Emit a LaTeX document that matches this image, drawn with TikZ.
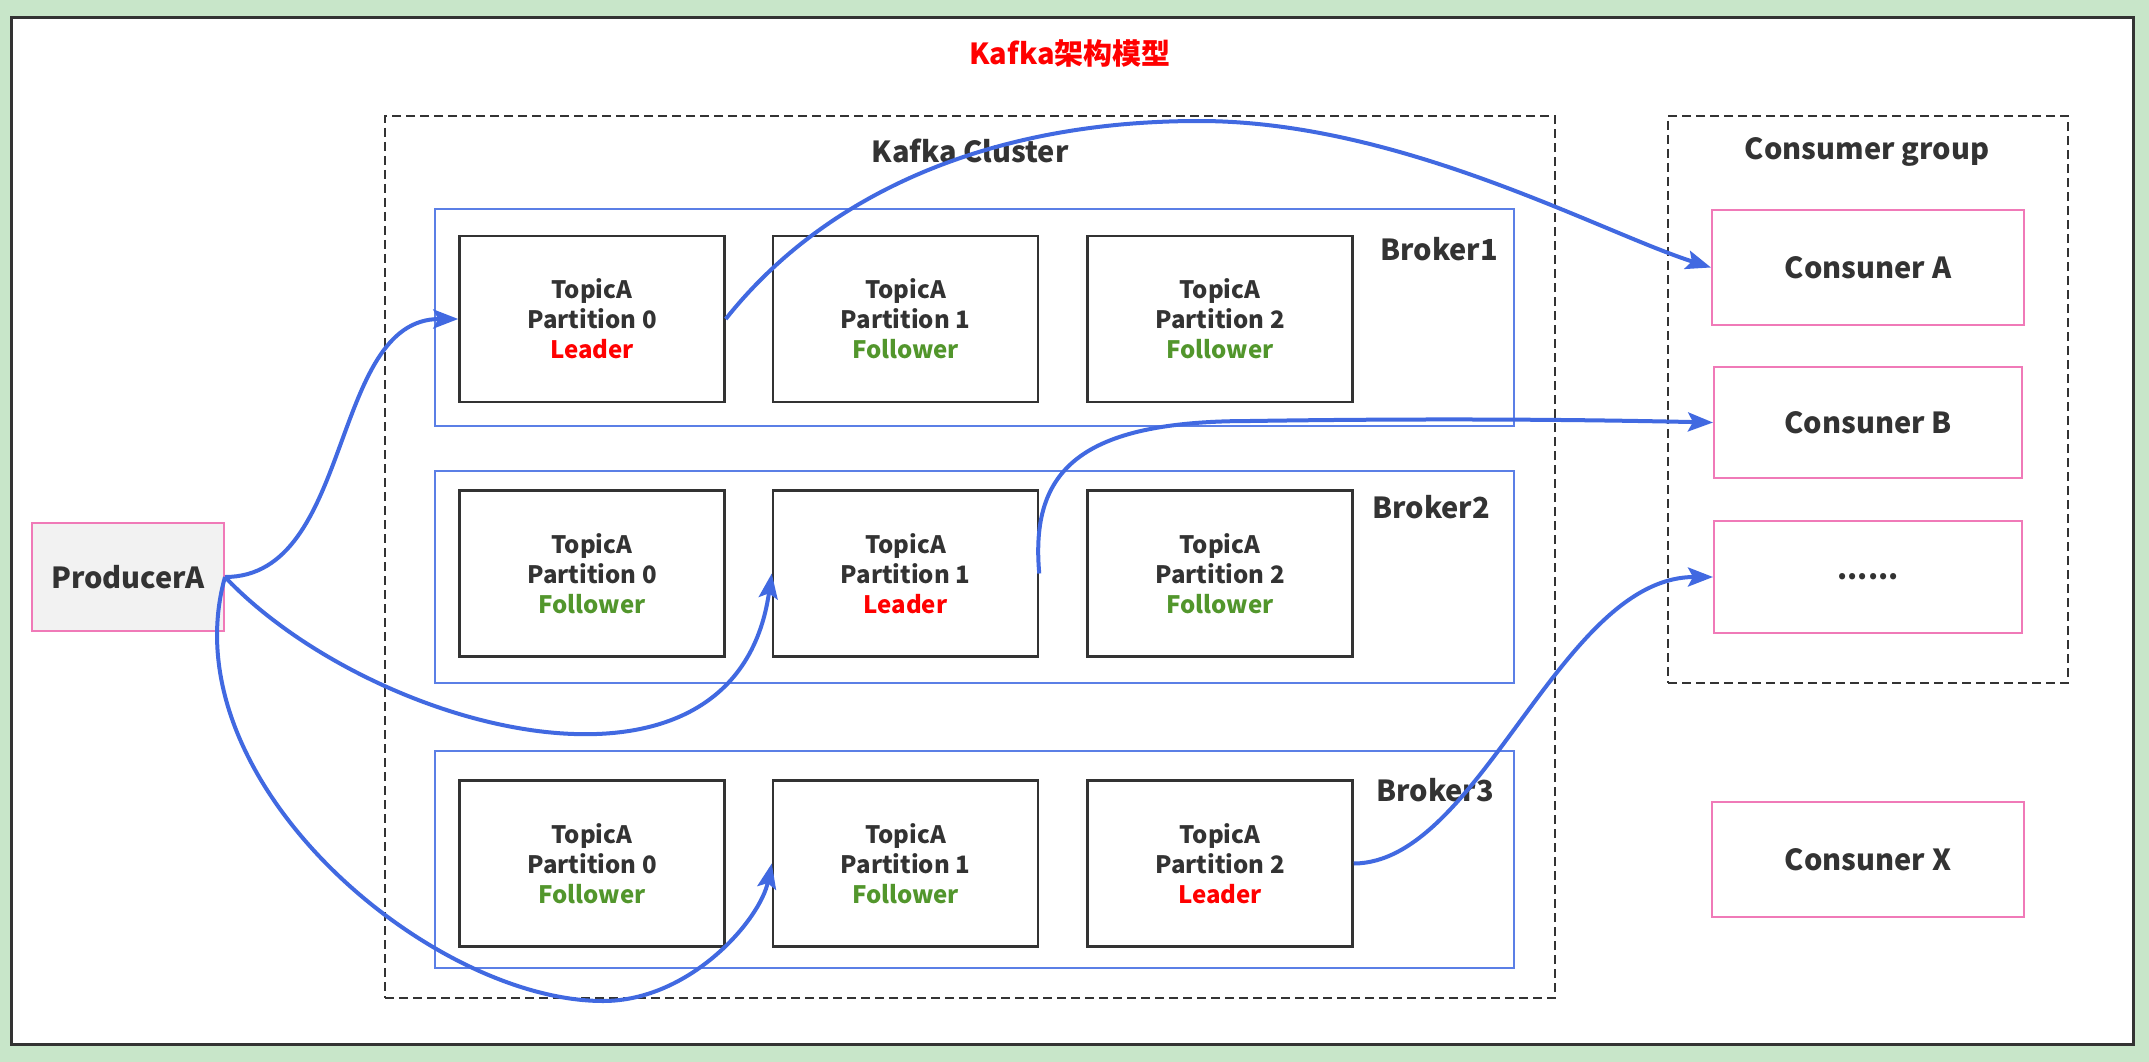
\documentclass[tikz,border=0pt]{standalone}
\usepackage{fontspec}
\setmainfont{Noto Sans CJK SC}
\usetikzlibrary{arrows.meta,calc}
\definecolor{bggreen}{HTML}{C8E6C9}
\definecolor{framegray}{HTML}{333333}
\definecolor{textgray}{HTML}{333333}
\definecolor{arrowblue}{HTML}{4169E1}
\definecolor{brokerblue}{HTML}{5B7FE6}
\definecolor{pinkline}{HTML}{F07AB8}
\definecolor{prodfill}{HTML}{F2F2F2}
\definecolor{leadred}{HTML}{FF0000}
\definecolor{follgreen}{HTML}{52962C}
\begin{document}
\begin{tikzpicture}[x=1pt,y=-1pt,
  part/.style={draw=framegray,line width=2.5pt,fill=white,minimum width=265pt,minimum height=166pt,inner sep=0pt,align=center,font=\fontsize{24}{30}\selectfont\bfseries,text=textgray},
  brokerbox/.style={draw=brokerblue,line width=2pt,minimum width=1079pt,inner sep=0pt},
  dashbox/.style={draw=framegray,line width=2pt,dash pattern=on 9pt off 5pt,inner sep=0pt},
  consbox/.style={draw=pinkline,line width=2pt,fill=white,inner sep=0pt,font=\fontsize{29}{34}\selectfont\bfseries,text=textgray},
  bigtext/.style={font=\fontsize{29}{34}\selectfont\bfseries,text=textgray,inner sep=0pt},
  flow/.style={draw=arrowblue,line width=4pt,-{Stealth[length=25pt,width=19pt,inset=5pt]}}]
\useasboundingbox (0,0) rectangle (2149,1062);
\fill[bggreen] (0,0) rectangle (2149,1062);
\draw[framegray,line width=3pt,fill=white] (11,18) rectangle (2133,1044);

\node[bigtext,text=leadred] (title) at (1070,54) {Kafka架构模型};

\node[dashbox,minimum width=1170pt,minimum height=882pt] (cluster) at (970,557) {};
\node[bigtext] (clusterlbl) at (970,151) {Kafka Cluster};
\node[dashbox,minimum width=400pt,minimum height=567pt] (cgroup) at (1868,399.5) {};
\node[bigtext] (cgrouplbl) at (1867,152) {Consumer group};

\node[brokerbox,minimum height=217pt] (b1) at (974.5,317.5) {};
\node[brokerbox,minimum height=212pt] (b2) at (974.5,577) {};
\node[brokerbox,minimum height=217pt] (b3) at (974.5,859.5) {};
\node[bigtext] (b1lbl) at (1439,249) {Broker1};
\node[bigtext] (b2lbl) at (1431,507) {Broker2};
\node[bigtext] (b3lbl) at (1435,790) {Broker3};

\node[part] (p11) at (592,319) {TopicA\\Partition 0\\\textcolor{leadred}{Leader}};
\node[part] (p12) at (905.5,319) {TopicA\\Partition 1\\\textcolor{follgreen}{Follower}};
\node[part] (p13) at (1220,319) {TopicA\\Partition 2\\\textcolor{follgreen}{Follower}};
\node[part] (p21) at (592,573.5) {TopicA\\Partition 0\\\textcolor{follgreen}{Follower}};
\node[part] (p22) at (905.5,573.5) {TopicA\\Partition 1\\\textcolor{leadred}{Leader}};
\node[part] (p23) at (1220,573.5) {TopicA\\Partition 2\\\textcolor{follgreen}{Follower}};
\node[part] (p31) at (592,863.5) {TopicA\\Partition 0\\\textcolor{follgreen}{Follower}};
\node[part] (p32) at (905.5,863.5) {TopicA\\Partition 1\\\textcolor{follgreen}{Follower}};
\node[part] (p33) at (1220,863.5) {TopicA\\Partition 2\\\textcolor{leadred}{Leader}};

\node[consbox,fill=prodfill,minimum width=192pt,minimum height=108pt] (prod) at (128,577) {ProducerA};
\node[consbox,minimum width=312pt,minimum height=115pt] (cA) at (1868,267.5) {Consuner A};
\node[consbox,minimum width=308pt,minimum height=111pt] (cB) at (1868,422.5) {Consuner B};
\node[consbox,minimum width=308pt,minimum height=112pt] (cD) at (1868,577) {......};
\node[consbox,minimum width=312pt,minimum height=115pt] (cX) at (1868,859.5) {Consuner X};

\coordinate (low3) at (603,1001);
\coordinate (peak4) at (1199,121);
\coordinate (mid5) at (1250,421);

\draw[flow] (prod.east) .. controls (354,577) and (329,319) .. (p11.west);
\draw[flow] (prod.east) .. controls (370,730) and (735,830) .. (p22.west);
\draw[flow] (prod.east) .. controls (168,780) and (430,1001) .. (low3) .. controls (690,1001) and (760,920) .. (p32.west);
\draw[flow] (p11.east) .. controls (820,200) and (980,121) .. (peak4) .. controls (1400,121) and (1600,232) .. (cA.west);
\draw[flow] (p22.east) .. controls (1030,470) and (1080,421) .. (mid5) .. controls (1450,418) and (1600,420) .. (cB.west);
\draw[flow] (p33.east) .. controls (1480,863) and (1560,577) .. (cD.west);
\end{tikzpicture}
\end{document}
